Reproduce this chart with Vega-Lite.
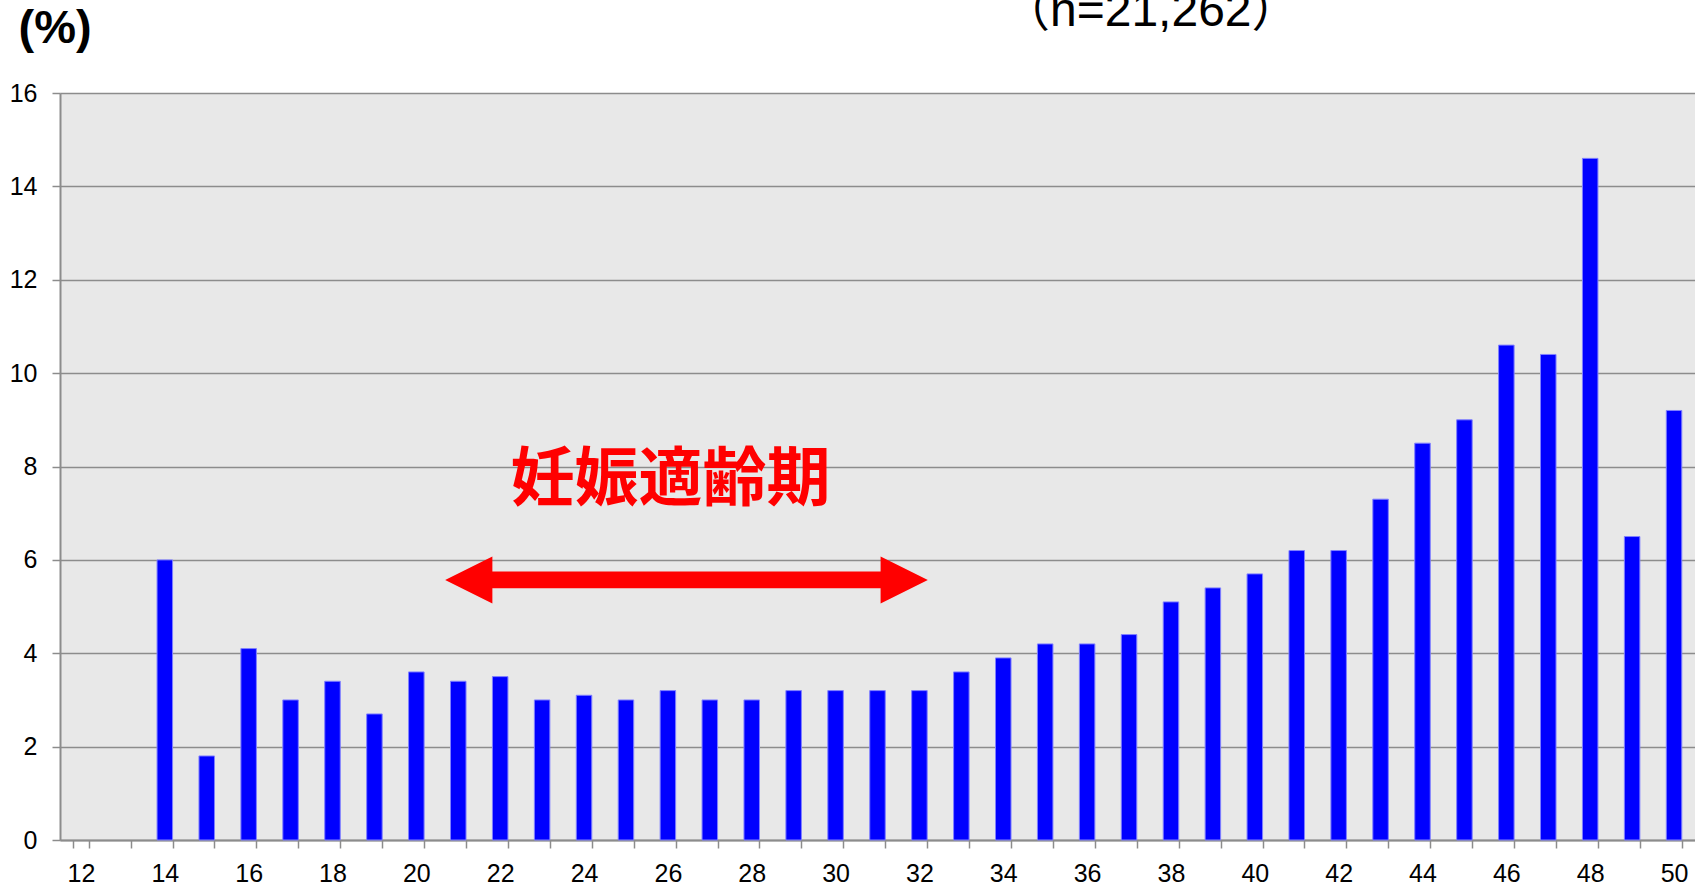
{
  "$schema": "https://vega.github.io/schema/vega-lite/v6.json",
  "width": 1635,
  "height": 747,
  "autosize": {"type": "none"},
  "padding": {"left": 60, "top": 93, "right": 0, "bottom": 45},
  "background": "white",
  "title": {
    "text": "（n=21,262）",
    "font": "Liberation Sans, Noto Sans CJK JP",
    "fontSize": 48,
    "fontWeight": "normal",
    "color": "black",
    "anchor": "start",
    "frame": "group",
    "dx": 942,
    "dy": 32,
    "offset": 0
  },
  "datasets": {
    "bars": [
      {"age": 14, "pct": 6.0}, {"age": 15, "pct": 1.8}, {"age": 16, "pct": 4.1}, {"age": 17, "pct": 3.0},
      {"age": 18, "pct": 3.4}, {"age": 19, "pct": 2.7}, {"age": 20, "pct": 3.6}, {"age": 21, "pct": 3.4},
      {"age": 22, "pct": 3.5}, {"age": 23, "pct": 3.0}, {"age": 24, "pct": 3.1}, {"age": 25, "pct": 3.0},
      {"age": 26, "pct": 3.2}, {"age": 27, "pct": 3.0}, {"age": 28, "pct": 3.0}, {"age": 29, "pct": 3.2},
      {"age": 30, "pct": 3.2}, {"age": 31, "pct": 3.2}, {"age": 32, "pct": 3.2}, {"age": 33, "pct": 3.6},
      {"age": 34, "pct": 3.9}, {"age": 35, "pct": 4.2}, {"age": 36, "pct": 4.2}, {"age": 37, "pct": 4.4},
      {"age": 38, "pct": 5.1}, {"age": 39, "pct": 5.4}, {"age": 40, "pct": 5.7}, {"age": 41, "pct": 6.2},
      {"age": 42, "pct": 6.2}, {"age": 43, "pct": 7.3}, {"age": 44, "pct": 8.5}, {"age": 45, "pct": 9.0},
      {"age": 46, "pct": 10.6}, {"age": 47, "pct": 10.4}, {"age": 48, "pct": 14.6}, {"age": 49, "pct": 6.5},
      {"age": 50, "pct": 9.2}
    ],
    "label": [{"age": 26, "pct": 7.7, "text": "妊娠適齢期"}],
    "arrow": [{"age": 26, "pct": 5.57}]
  },
  "encoding": {
    "x": {
      "field": "age",
      "type": "ordinal",
      "scale": {
        "domain": [12,13,14,15,16,17,18,19,20,21,22,23,24,25,26,27,28,29,30,31,32,33,34,35,36,37,38,39,40,41,42,43,44,45,46,47,48,49,50],
        "paddingInner": 0.63,
        "paddingOuter": 0.315
      },
      "axis": {
        "title": null,
        "labelAngle": 0,
        "labelExpr": "datum.value % 2 === 0 ? datum.label : ''",
        "labelFont": "Liberation Sans",
        "labelFontSize": 25,
        "labelColor": "black",
        "labelPadding": 13,
        "tickBand": "extent",
        "tickSize": 8,
        "tickColor": "#8c8c8c",
        "tickWidth": 1.5,
        "domainColor": "#8c8c8c",
        "domainWidth": 2,
        "grid": false
      }
    },
    "y": {
      "field": "pct",
      "type": "quantitative",
      "scale": {"domain": [0, 16], "nice": false, "zero": true},
      "axis": {
        "title": "(%)",
        "titleFont": "Liberation Sans",
        "titleFontSize": 47,
        "titleFontWeight": "bold",
        "titleColor": "black",
        "titleAngle": 0,
        "titleAlign": "left",
        "titleBaseline": "alphabetic",
        "titleX": -42,
        "titleY": -51,
        "values": [0, 2, 4, 6, 8, 10, 12, 14, 16],
        "labelFont": "Liberation Sans",
        "labelFontSize": 25,
        "labelColor": "black",
        "labelPadding": 15,
        "tickSize": 8,
        "tickColor": "#8c8c8c",
        "tickWidth": 1.5,
        "domainColor": "#8c8c8c",
        "domainWidth": 2,
        "grid": true,
        "gridColor": "#8c8c8c",
        "gridWidth": 1.5
      }
    }
  },
  "layer": [
    {
      "data": {"name": "bars"},
      "mark": {"type": "bar", "color": "#0000ff", "stroke": "#8080ff", "strokeWidth": 1}
    },
    {
      "data": {"name": "label"},
      "mark": {
        "type": "text",
        "font": "Noto Sans CJK JP",
        "fontWeight": "bold",
        "fontSize": 64,
        "color": "#ff0000",
        "align": "center",
        "baseline": "middle",
        "xOffset": 2.7
      },
      "encoding": {"text": {"field": "text"}}
    },
    {
      "data": {"name": "arrow"},
      "mark": {
        "type": "point",
        "filled": true,
        "shape": "M-10.27,0L-8.26,-1L-8.26,-0.355L8.26,-0.355L8.26,-1L10.27,0L8.26,1L8.26,0.355L-8.26,0.355L-8.26,1Z",
        "size": 2209,
        "color": "#ff0000",
        "opacity": 1,
        "strokeWidth": 0,
        "xOffset": 18.6
      }
    }
  ],
  "config": {
    "view": {"fill": "#e8e8e8", "stroke": null}
  }
}
